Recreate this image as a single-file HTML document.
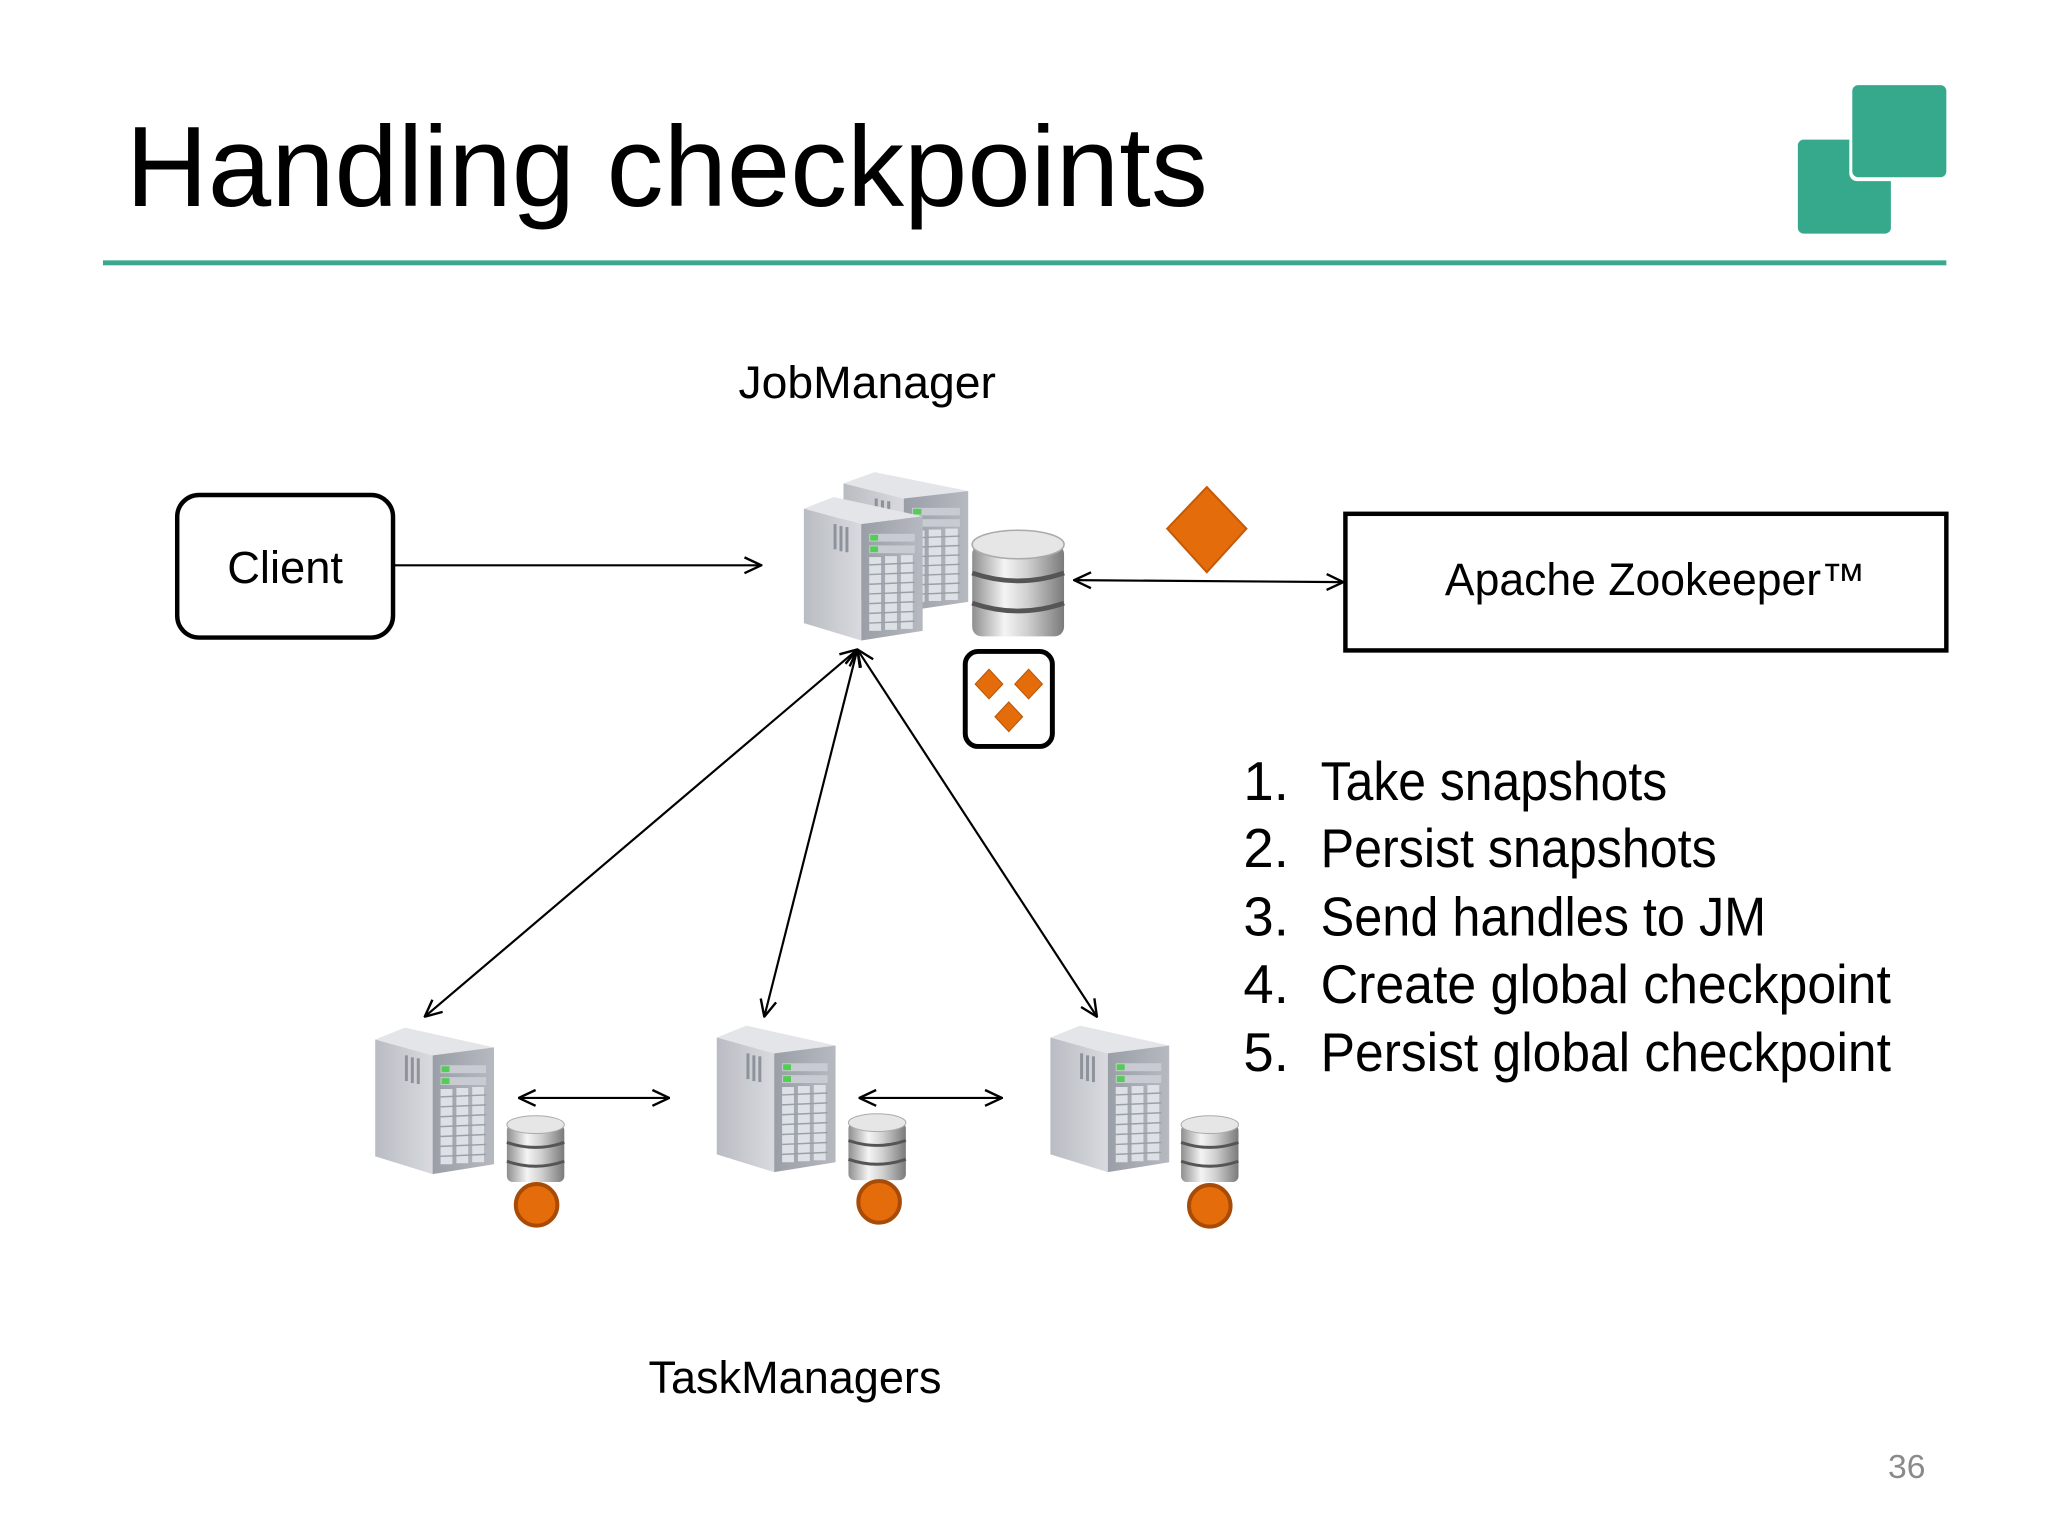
<!DOCTYPE html>
<html><head><meta charset="utf-8"><style>
html,body{margin:0;padding:0;background:#fff;}
svg{display:block;}
text{font-family:"Liberation Sans",sans-serif;fill:#000;}
</style></head><body>
<svg width="2048" height="1536" viewBox="0 0 2048 1536" xmlns="http://www.w3.org/2000/svg">
<defs>
<marker id="ah" viewBox="0 0 20 20" refX="19" refY="10" markerWidth="20" markerHeight="20" markerUnits="userSpaceOnUse" orient="auto-start-reverse">
<path d="M2,2 L19,10 L2,18" fill="none" stroke="#000" stroke-width="2.4"/>
</marker>
<linearGradient id="lf" x1="0" y1="0" x2="1" y2="0"><stop offset="0" stop-color="#b9bcc2"/><stop offset="1" stop-color="#d8dadf"/></linearGradient>
<linearGradient id="ff" x1="0" y1="0" x2="1" y2="0"><stop offset="0" stop-color="#9a9ea6"/><stop offset="1" stop-color="#b6b9c0"/></linearGradient>
<linearGradient id="db" x1="0" y1="0" x2="1" y2="0"><stop offset="0" stop-color="#8e8e8e"/><stop offset="0.35" stop-color="#f4f4f4"/><stop offset="0.6" stop-color="#d0d0d0"/><stop offset="1" stop-color="#7a7a7a"/></linearGradient>
<g id="srv">
<polygon points="0,14 30,2 120,22 58,30" fill="#e3e5e8"/>
<polygon points="0,14 58,30 58,150 0,132" fill="url(#lf)"/>
<polygon points="58,30 120,22 120,140 58,150" fill="url(#ff)"/>
<rect x="66" y="40" width="46" height="8" fill="#c8ccd2"/>
<rect x="66" y="52" width="46" height="8" fill="#c8ccd2"/>
<rect x="67" y="41" width="8" height="6" fill="#5c5"/>
<rect x="67" y="53" width="8" height="6" fill="#5c5"/>
<g fill="#dde0e5">
<rect x="66" y="64" width="12" height="76"/><rect x="82" y="63" width="12" height="76"/><rect x="98" y="62" width="12" height="76"/>
</g>
<g stroke="#9aa0a8" stroke-width="1.5">
<line x1="66" y1="72" x2="112" y2="70"/><line x1="66" y1="82" x2="112" y2="80"/><line x1="66" y1="92" x2="112" y2="90"/><line x1="66" y1="102" x2="112" y2="100"/><line x1="66" y1="112" x2="112" y2="110"/><line x1="66" y1="122" x2="112" y2="120"/><line x1="66" y1="132" x2="112" y2="130"/>
</g>
<g fill="#8e939b"><rect x="30" y="30" width="3" height="26"/><rect x="36" y="32" width="3" height="26"/><rect x="42" y="33" width="3" height="26"/></g>
</g>
<g id="dbs">
<rect x="0" y="10" width="58" height="58" rx="6" fill="url(#db)"/>
<ellipse cx="29" cy="10" rx="29" ry="9" fill="#e6e6e6" stroke="#aaa" stroke-width="1"/>
<path d="M0,28 Q29,38 58,28" fill="none" stroke="#555" stroke-width="3"/>
<path d="M0,47 Q29,57 58,47" fill="none" stroke="#555" stroke-width="3"/>
</g>
</defs>
<g transform="scale(0.99)">
<!-- title -->
<text x="127" y="208" font-size="115" textLength="1093" lengthAdjust="spacingAndGlyphs">Handling checkpoints</text>
<rect x="104" y="263" width="1862" height="5" fill="#3aa88e"/>
<!-- logo -->
<rect x="1816" y="141" width="94" height="95" rx="6" fill="#36a98c"/>
<rect x="1868" y="83" width="101" height="100" rx="8" fill="#fff"/>
<rect x="1871" y="86" width="95" height="93" rx="6" fill="#36a98c"/>

<!-- JobManager -->
<text x="876" y="402" font-size="46" text-anchor="middle" textLength="260" lengthAdjust="spacingAndGlyphs">JobManager</text>
<g transform="translate(852,475) scale(1.05,0.95)"><use href="#srv"/></g>
<g transform="translate(812,500) scale(1.0,0.98)"><use href="#srv"/></g>
<g transform="translate(982,534) scale(1.6,1.6)"><use href="#dbs"/></g>

<!-- client -->
<rect x="179" y="500" width="218" height="144" rx="22" fill="#fff" stroke="#000" stroke-width="4.5"/>
<text x="288" y="589" font-size="46" text-anchor="middle" textLength="117" lengthAdjust="spacingAndGlyphs">Client</text>
<line x1="397" y1="571" x2="769" y2="571" stroke="#000" stroke-width="2.2" marker-end="url(#ah)"/>

<!-- zookeeper -->
<polygon points="1219,492 1259,534 1219,578 1179,534" fill="#e46c0a" stroke="#c55a08" stroke-width="2"/>
<line x1="1085" y1="586" x2="1357" y2="588" stroke="#000" stroke-width="2.2" marker-start="url(#ah)" marker-end="url(#ah)"/>
<rect x="1359" y="519" width="607" height="138" fill="#fff" stroke="#000" stroke-width="4.5"/>
<text x="1672" y="601" font-size="46" text-anchor="middle" textLength="425" lengthAdjust="spacingAndGlyphs">Apache Zookeeper™</text>

<!-- small box -->
<rect x="975" y="658" width="88" height="96" rx="13" fill="#fff" stroke="#000" stroke-width="5"/>
<polygon points="999,676 1013,691 999,706 985,691" fill="#e46c0a" stroke="#b55507" stroke-width="1"/>
<polygon points="1039,676 1053,691 1039,706 1025,691" fill="#e46c0a" stroke="#b55507" stroke-width="1"/>
<polygon points="1019,709 1033,724 1019,739 1005,724" fill="#e46c0a" stroke="#b55507" stroke-width="1"/>

<!-- JM-TM arrows -->
<line x1="866" y1="656" x2="429" y2="1027" stroke="#000" stroke-width="2.2" marker-start="url(#ah)" marker-end="url(#ah)"/>
<line x1="866" y1="656" x2="772" y2="1027" stroke="#000" stroke-width="2.2" marker-start="url(#ah)" marker-end="url(#ah)"/>
<line x1="866" y1="656" x2="1108" y2="1027" stroke="#000" stroke-width="2.2" marker-start="url(#ah)" marker-end="url(#ah)"/>

<!-- TMs -->
<use href="#srv" x="379" y="1036"/>
<use href="#srv" x="724" y="1034"/>
<use href="#srv" x="1061" y="1034"/>
<use href="#dbs" x="512" y="1126"/>
<use href="#dbs" x="857" y="1124"/>
<use href="#dbs" x="1193" y="1126"/>
<circle cx="542" cy="1217" r="21" fill="#e46c0a" stroke="#a84b06" stroke-width="4"/>
<circle cx="888" cy="1214" r="21" fill="#e46c0a" stroke="#a84b06" stroke-width="4"/>
<circle cx="1222" cy="1218" r="21" fill="#e46c0a" stroke="#a84b06" stroke-width="4"/>
<line x1="524" y1="1109" x2="676" y2="1109" stroke="#000" stroke-width="2.2" marker-start="url(#ah)" marker-end="url(#ah)"/>
<line x1="868" y1="1109" x2="1012" y2="1109" stroke="#000" stroke-width="2.2" marker-start="url(#ah)" marker-end="url(#ah)"/>

<text x="803" y="1407" font-size="46" text-anchor="middle" textLength="296" lengthAdjust="spacingAndGlyphs">TaskManagers</text>

<!-- list -->
<g font-size="55">
<text x="1256" y="808">1.</text><text x="1334" y="808" textLength="350" lengthAdjust="spacingAndGlyphs">Take snapshots</text>
<text x="1256" y="876">2.</text><text x="1334" y="876" textLength="400" lengthAdjust="spacingAndGlyphs">Persist snapshots</text>
<text x="1256" y="945">3.</text><text x="1334" y="945" textLength="450" lengthAdjust="spacingAndGlyphs">Send handles to JM</text>
<text x="1256" y="1013">4.</text><text x="1334" y="1013" textLength="576" lengthAdjust="spacingAndGlyphs">Create global checkpoint</text>
<text x="1256" y="1082">5.</text><text x="1334" y="1082" textLength="576" lengthAdjust="spacingAndGlyphs">Persist global checkpoint</text>
</g>
<text x="1926" y="1493" font-size="34" text-anchor="middle" style="fill:#8a8a8a">36</text>
</g>
</svg>
</body></html>
